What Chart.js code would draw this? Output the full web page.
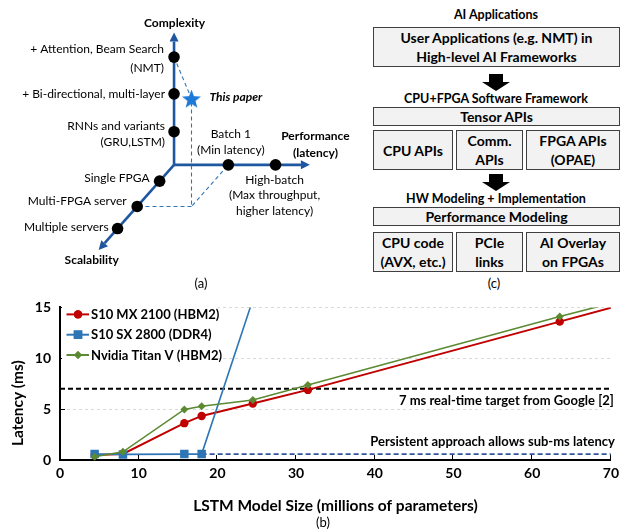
<!DOCTYPE html>
<html><head><meta charset="utf-8">
<title>LSTM latency figure</title>
<script src="https://cdn.jsdelivr.net/npm/chart.js@4.4.1/dist/chart.umd.min.js"></script>
<style>
html,body{margin:0;padding:0;background:#fff;}
body{width:624px;height:529px;position:relative;overflow:hidden;font-family:Lato,sans-serif;color:#000;}
canvas{position:absolute;}
#ca{left:0;top:0;}
#cb{left:0;top:290px;}
.ttl{position:absolute;left:372px;width:248px;text-align:center;font-weight:bold;font-size:12.5px;line-height:16px;white-space:nowrap;}
.box{position:absolute;box-sizing:border-box;background:#f2f2f2;border:1.5px solid #3f3f3f;display:flex;align-items:center;justify-content:center;text-align:center;font-weight:bold;font-size:14px;line-height:19px;white-space:nowrap;}
.arr{position:absolute;left:482px;width:28px;}
.arr .shaft{margin-left:7px;width:14px;height:8px;background:#000;}
.arr .head{width:0;height:0;border-left:14px solid transparent;border-right:14px solid transparent;border-top:9px solid #000;}
.cap{position:absolute;font-size:13px;line-height:16px;text-align:center;width:40px;}
</style>
</head><body>
<canvas id="ca" width="365" height="290"></canvas>
<div class="cap" style="left:181px;top:275px">(a)</div>

<div class="ttl" style="top:7px">AI Applications</div>
<div class="box" style="left:373px;top:27px;width:247px;height:40px">User Applications (e.g. NMT) in<br>High-level AI Frameworks</div>
<div class="arr" style="top:74px"><div class="shaft"></div><div class="head"></div></div>
<div class="ttl" style="top:91px">CPU+FPGA Software Framework</div>
<div class="box" style="left:373px;top:107px;width:247px;height:19px">Tensor APIs</div>
<div class="box" style="left:373px;top:130px;width:80px;height:40px">CPU APIs</div>
<div class="box" style="left:456px;top:130px;width:67px;height:40px">Comm.<br>APIs</div>
<div class="box" style="left:526px;top:130px;width:94px;height:40px">FPGA APIs<br>(OPAE)</div>
<div class="arr" style="top:174px"><div class="shaft"></div><div class="head"></div></div>
<div class="ttl" style="top:191px">HW Modeling + Implementation</div>
<div class="box" style="left:373px;top:207px;width:247px;height:19px">Performance Modeling</div>
<div class="box" style="left:373px;top:232px;width:80px;height:40px">CPU code<br>(AVX, etc.)</div>
<div class="box" style="left:456px;top:232px;width:67px;height:40px">PCIe<br>links</div>
<div class="box" style="left:526px;top:232px;width:94px;height:40px">AI Overlay<br>on FPGAs</div>
<div class="cap" style="left:474px;top:275px">(c)</div>

<canvas id="cb" width="624" height="239"></canvas>
<div class="cap" style="left:303px;top:514px">(b)</div>

<script>
// ================= (b) line chart data =================
const modelSizeM     = [4.4, 8.0, 15.8, 18.0, 24.5, 31.5, 63.5, 100];
const latencyS10MX   = [0.50, 0.60, 3.62, 4.33, 5.55, 6.89, 13.6, 21.25];
const latencyTitanV  = [0.32, 0.80, 4.97, 5.29, 5.90, 7.37, 14.1, 21.4];
const modelSizeSX    = [4.4, 8.0, 15.8, 18.0, 24.5];
const latencyS10SX   = [0.58, 0.55, 0.58, 0.58, 15.75];
const seriesNames    = ['S10 MX 2100 (HBM2)', 'S10 SX 2800 (DDR4)', 'Nvidia Titan V (HBM2)'];
const xTickValues    = [0, 10, 20, 30, 40, 50, 60, 70];
const yTickValues    = [0, 5, 10, 15];
const realTimeTargetMs   = 7;
const persistentLatency  = 0.58;
const persistentFromSize = 18;
const targetText     = '7 ms real-time target from Google [2]';
const persistentText = 'Persistent approach allows sub-ms latency';
const xTitle = 'LSTM Model Size (millions of parameters)';
const yTitle = 'Latency (ms)';

// ================= (a) design-space diagram data =================
const complexityLevels  = [0.92, 1.97, 2.99];
const complexityNames   = [['RNNs and variants', '(GRU,LSTM)'], ['+ Bi-directional, multi-layer'], ['+ Attention, Beam Search', '(NMT)']];
const performanceLevels = [1.07, 2.0];
const performanceNames  = [['Batch 1', '(Min latency)'], ['High-batch', '(Max throughput,', 'higher latency)']];
const scalabilityLevels = [0.78, 1.99, 3.05];
const scalabilityNames  = [['Single FPGA'], ['Multi-FPGA server'], ['Multiple servers']];
const axisNames         = [['Performance', '(latency)'], ['Complexity'], ['Scalability']];
const thisPaperLevels   = [1.07, 2.99, 1.99]; // performance, complexity, scalability
const thisPaperName     = 'This paper';

// ---------- colours ----------
const RED = '#C00000', BLUE = '#2E75B6', GREEN = '#5B8A32', NAVY = '#2F5597';
const AXIS_BLUE = '#1F56A0', GUIDE_BLUE = '#2E75B6', STAR_BLUE = '#1E7AD8';

function pts(xs, ys) { return xs.map((x, i) => ({x: x, y: ys[i]})); }

// ================= chart (a) =================
function drawA() {
  const O = {x: 173.5, y: 166.5};
  const STEP = {p: {x: 54, y: 0}, c: {x: 0, y: -39}, s: {x: -19.7, y: 22.6}};
  const AXLEN = {p: 2.5, c: 3.42, s: 3.75};
  const proj = (p, c, s) => ({x: O.x + p * STEP.p.x + c * STEP.c.x + s * STEP.s.x,
                              y: O.y + p * STEP.p.y + c * STEP.c.y + s * STEP.s.y});
  const origin = proj(0, 0, 0);
  const perfEnd = proj(AXLEN.p, 0, 0), compEnd = proj(0, AXLEN.c, 0), scalEnd = proj(0, 0, AXLEN.s);
  const compPts = complexityLevels.map(v => proj(0, v, 0));
  const perfPts = performanceLevels.map(v => proj(v, 0, 0));
  const scalPts = scalabilityLevels.map(v => proj(0, 0, v));
  const star = proj(thisPaperLevels[0], thisPaperLevels[1], thisPaperLevels[2]);
  const ground = proj(thisPaperLevels[0], 0, thisPaperLevels[2]);
  const attn = proj(0, thisPaperLevels[1], 0);
  const batch = proj(thisPaperLevels[0], 0, 0);
  const multi = proj(0, 0, thisPaperLevels[2]);

  // star marker image
  const r = 10, sz = 23;
  const starImg = document.createElement('canvas');
  starImg.width = sz; starImg.height = sz;
  const g = starImg.getContext('2d');
  g.translate(sz / 2, sz / 2 + 1);
  g.beginPath();
  for (let i = 0; i < 10; i++) {
    const rad = i % 2 ? r * 0.42 : r;
    const ang = -Math.PI / 2 + i * Math.PI / 5;
    g.lineTo(rad * Math.cos(ang), rad * Math.sin(ang));
  }
  g.closePath(); g.fillStyle = STAR_BLUE; g.fill();

  const axisDs = (end) => ({data: [origin, end], showLine: true, borderColor: AXIS_BLUE, borderWidth: 2.6,
                            pointRadius: 0, order: 3, clip: false});
  const guideDs = (arr) => ({data: arr, showLine: true, borderColor: GUIDE_BLUE, borderWidth: 1.1,
                             borderDash: [4, 3], pointRadius: 0, order: 2, clip: false});

  const labelStyle = {
    comp: [{dx: -9, dy: [-5.5, 10.5]}, {dx: -9, dy: [0]}, {dx: -10, dy: [-7.5, 11]}],
    perf: [{dx: 2.5, dy: [-31, -15]}, {dx: -1, dy: [15.5, 30.5, 46]}],
    scal: [{dx: -10, dy: [-3]}, {dx: -10.5, dy: [-5.7]}, {dx: -9, dy: [-1.4]}]
  };

  const aDecor = {
    id: 'aDecor',
    afterDatasetsDraw(chart) {
      const {ctx, scales: {x, y}} = chart;
      const px = p => ({x: x.getPixelForValue(p.x), y: y.getPixelForValue(p.y)});
      ctx.save();
      // arrow heads
      [perfEnd, compEnd, scalEnd].forEach(end => {
        const a = px(origin), b = px(end);
        const dx = b.x - a.x, dy = b.y - a.y, L = Math.hypot(dx, dy);
        const ux = dx / L, uy = dy / L;
        ctx.beginPath();
        ctx.moveTo(b.x + ux * 9, b.y + uy * 9);
        ctx.lineTo(b.x - uy * 4.5, b.y + ux * 4.5);
        ctx.lineTo(b.x + uy * 4.5, b.y - ux * 4.5);
        ctx.closePath();
        ctx.fillStyle = AXIS_BLUE; ctx.fill();
      });
      ctx.fillStyle = '#000';
      ctx.textBaseline = 'middle';
      const put = (p, st, lines, align, font) => {
        const q = px(p);
        ctx.font = font; ctx.textAlign = align;
        lines.forEach((t, i) => ctx.fillText(t, q.x + st.dx, q.y + st.dy[i]));
      };
      const REG = '12px Lato', BOLD = 'bold 12px Lato';
      compPts.forEach((p, i) => put(p, labelStyle.comp[i], complexityNames[i], 'right', REG));
      perfPts.forEach((p, i) => put(p, labelStyle.perf[i], performanceNames[i], 'center', REG));
      scalPts.forEach((p, i) => put(p, labelStyle.scal[i], scalabilityNames[i], 'right', REG));
      put(perfEnd, {dx: 14.5, dy: [-28.8, -12.2]}, axisNames[0], 'center', BOLD);
      put(compEnd, {dx: 0.5, dy: [-18]}, axisNames[1], 'center', BOLD);
      put(scalEnd, {dx: -12.9, dy: [16.6]}, axisNames[2], 'center', BOLD);
      put(star, {dx: 18, dy: [-1.6]}, [thisPaperName], 'left', 'italic bold 12px Lato');
      ctx.restore();
    }
  };

  new Chart(document.getElementById('ca'), {
    type: 'scatter',
    data: {datasets: [
      axisDs(perfEnd), axisDs(compEnd), axisDs(scalEnd),
      guideDs([attn, star, ground, batch]),
      guideDs([ground, multi]),
      {data: compPts.concat(perfPts, scalPts), pointRadius: 5.8, pointBackgroundColor: '#000',
       pointBorderWidth: 0, order: 1, clip: false},
      {data: [star], pointStyle: starImg, pointRadius: 10, order: 0, clip: false}
    ]},
    options: {
      responsive: false, animation: false, devicePixelRatio: 1,
      layout: {padding: 0},
      events: [],
      plugins: {legend: {display: false}, tooltip: {enabled: false}},
      scales: {
        x: {type: 'linear', min: 0, max: 365, display: false},
        y: {type: 'linear', min: 0, max: 290, reverse: true, display: false}
      }
    },
    plugins: [aDecor]
  });
}

// ================= chart (b) =================
function drawB() {
  const bDecor = {
    id: 'bDecor',
    afterDatasetsDraw(chart) {
      const {ctx, chartArea: a, scales: {x, y}} = chart;
      ctx.save();
      // inner tick marks
      ctx.strokeStyle = '#000'; ctx.lineWidth = 1;
      xTickValues.slice(1).forEach(v => {
        const p = Math.round(x.getPixelForValue(v)) - 0.5;
        ctx.beginPath(); ctx.moveTo(p, a.bottom); ctx.lineTo(p, a.bottom - 5); ctx.stroke();
      });
      yTickValues.slice(1).forEach(v => {
        const p = Math.round(y.getPixelForValue(v)) + 0.5;
        ctx.beginPath(); ctx.moveTo(a.left, p); ctx.lineTo(a.left + 5, p); ctx.stroke();
      });
      // annotations
      ctx.fillStyle = '#000';
      ctx.font = 'bold 13px Lato'; ctx.textAlign = 'right'; ctx.textBaseline = 'middle';
      const xr = x.getPixelForValue(xTickValues[xTickValues.length - 1]);
      ctx.fillText(targetText, xr + 3, y.getPixelForValue(realTimeTargetMs) + 12.5);
      ctx.fillText(persistentText, xr + 4, y.getPixelForValue(persistentLatency) - 12.5);
      // legend
      ctx.fillStyle = '#fff';
      ctx.fillRect(a.left + 2, a.top - 2, 156, 60);
      const items = [
        {name: seriesNames[0], color: RED, style: 'circle', r: 4.2},
        {name: seriesNames[1], color: BLUE, style: 'rect', r: 6},
        {name: seriesNames[2], color: GREEN, style: 'rectRot', r: 4}
      ];
      items.forEach((it, i) => {
        const cy = a.top + 7 + i * 20.3;
        ctx.strokeStyle = it.color; ctx.lineWidth = 2;
        ctx.beginPath(); ctx.moveTo(a.left + 6.5, cy); ctx.lineTo(a.left + 29, cy); ctx.stroke();
        ctx.fillStyle = it.color;
        Chart.helpers.drawPoint(ctx, {pointStyle: it.style, radius: it.r, borderWidth: 0, rotation: 0},
                                a.left + 18, cy);
        ctx.fill();
        ctx.fillStyle = '#000'; ctx.textAlign = 'left'; ctx.font = 'bold 13px Lato';
        ctx.fillText(it.name, a.left + 31, cy + 0.5);
      });
      // y axis title
      ctx.save();
      ctx.translate(18, a.top + (a.bottom - a.top) / 2 + 19.5);
      ctx.rotate(-Math.PI / 2);
      ctx.textAlign = 'center'; ctx.font = 'bold 15.5px Lato';
      ctx.fillText(yTitle, 0, 0);
      ctx.restore();
      ctx.restore();
    }
  };
  const clipB = {left: 6, right: 0, top: 0, bottom: 6};
  const tickFont = {family: 'Lato', weight: 'bold', size: 14};
  new Chart(document.getElementById('cb'), {
    type: 'scatter',
    data: {datasets: [
      {label: seriesNames[2], data: pts(modelSizeM, latencyTitanV), showLine: true,
       borderColor: GREEN, backgroundColor: GREEN, borderWidth: 1.6,
       pointStyle: 'rectRot', pointRadius: 4, pointBorderWidth: 0, order: 0, clip: clipB},
      {label: seriesNames[1], data: pts(modelSizeSX, latencyS10SX), showLine: true,
       borderColor: BLUE, backgroundColor: BLUE, borderWidth: 1.6,
       pointStyle: 'rect', pointRadius: 6, pointBorderWidth: 0, order: 1, clip: clipB},
      {label: seriesNames[0], data: pts(modelSizeM, latencyS10MX), showLine: true,
       borderColor: RED, backgroundColor: RED, borderWidth: 2,
       pointStyle: 'circle', pointRadius: 4.2, pointBorderWidth: 0, order: 2, clip: clipB},
      {label: 'target', data: [{x: xTickValues[0], y: realTimeTargetMs}, {x: xTickValues[xTickValues.length - 1], y: realTimeTargetMs}],
       showLine: true, borderColor: '#000', borderWidth: 2, borderDash: [5, 3], pointRadius: 0, order: 3, clip: false},
      {label: 'persistent', data: [{x: persistentFromSize, y: persistentLatency}, {x: xTickValues[xTickValues.length - 1], y: persistentLatency}],
       showLine: true, borderColor: NAVY, borderWidth: 1.8, borderDash: [5, 3], pointRadius: 0, order: 3, clip: false}
    ]},
    options: {
      responsive: false, animation: false, devicePixelRatio: 1,
      events: [],
      layout: {padding: {top: 14, right: 12, left: 0, bottom: 0}},
      plugins: {legend: {display: false}, tooltip: {enabled: false}},
      scales: {
        x: {type: 'linear', min: xTickValues[0], max: xTickValues[xTickValues.length - 1],
            afterBuildTicks: s => { s.ticks = xTickValues.map(v => ({value: v})); },
            grid: {display: false, drawTicks: false},
            border: {display: true, color: '#000', width: 2},
            ticks: {padding: 5, color: '#000', font: tickFont},
            title: {display: true, text: xTitle, color: '#000',
                    font: {family: 'Lato', weight: 'bold', size: 15.5}, padding: {top: 0, bottom: 14}},
            afterFit: s => { s.height = 69; }},
        y: {type: 'linear', min: yTickValues[0], max: yTickValues[yTickValues.length - 1],
            afterBuildTicks: s => { s.ticks = yTickValues.map(v => ({value: v})); },
            grid: {color: '#d9d9d9', lineWidth: 1, drawTicks: false},
            border: {display: true, color: '#000', width: 2, dash: [3, 3]},
            ticks: {padding: 9, color: '#000', font: tickFont},
            afterFit: s => { s.width = 60; }}
      }
    },
    plugins: [bDecor]
  });
}

function drawAll() { drawA(); drawB(); }
Promise.all(['12px Lato', 'bold 12px Lato', 'italic bold 12px Lato', 'bold 14px Lato']
  .map(f => document.fonts.load(f))).then(drawAll, drawAll);
</script>
</body></html>
